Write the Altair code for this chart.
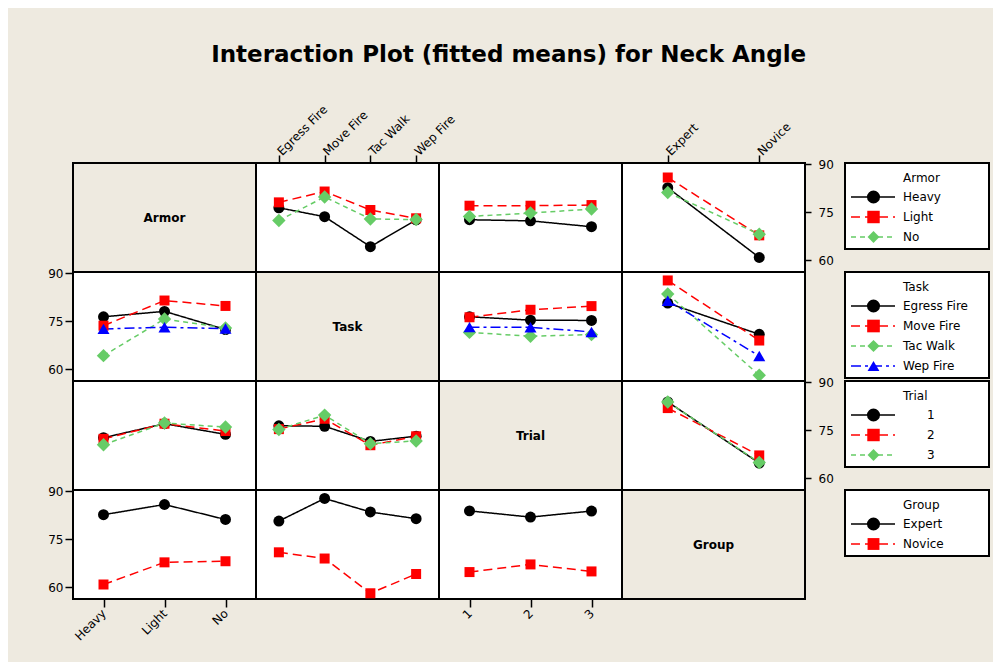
import altair as alt
import pandas as pd

FONT = "DejaVu Sans"
BEIGE = "#EEEAE0"

ARMOR = ["Heavy", "Light", "No"]
TASK = ["Egress Fire", "Move Fire", "Tac Walk", "Wep Fire"]
TRIAL = ["1", "2", "3"]
GROUP = ["Expert", "Novice"]
FACTORS = ["Armor", "Task", "Trial", "Group"]
LEVELS = {"Armor": ARMOR, "Task": TASK, "Trial": TRIAL, "Group": GROUP}

# fitted means: rows = levels of first factor, columns = levels of second factor
ARMOR_TASK = [
    [76.4, 73.6, 64.2, 72.6],
    [78.1, 81.5, 75.7, 73.1],
    [72.4, 79.8, 72.9, 72.7],
]
ARMOR_TRIAL = [
    [72.65, 72.3, 70.45],
    [77.05, 77.05, 77.25],
    [73.7, 74.75, 76.0],
]
ARMOR_GROUP = [
    [82.7, 60.8],
    [85.9, 67.75],
    [81.2, 68.1],
]
TASK_TRIAL = [
    [76.4, 75.35, 75.25],
    [76.25, 78.6, 79.75],
    [71.5, 70.3, 70.8],
    [73.15, 73.1, 71.65],
]
TASK_GROUP = [
    [80.7, 70.9],
    [87.8, 68.95],
    [83.55, 58.05],
    [81.45, 64.1],
]
TRIAL_GROUP = [
    [83.9, 64.7],
    [81.95, 67.1],
    [83.85, 64.9],
]
TABLES = {
    ("Armor", "Task"): ARMOR_TASK,
    ("Armor", "Trial"): ARMOR_TRIAL,
    ("Armor", "Group"): ARMOR_GROUP,
    ("Task", "Trial"): TASK_TRIAL,
    ("Task", "Group"): TASK_GROUP,
    ("Trial", "Group"): TRIAL_GROUP,
}

Y_TICKS = [60, 75, 90]
Y_DOMAIN = [56.25, 90.45]

COLORS = ["#000000", "#FF0000", "#66CC66", "#0000FF"]
SHAPES = ["circle", "square", "diamond", "triangle-up"]
SIZES = [120, 100, 180, 145]
LEG_SIZES = [170, 140, 270, 200]
DASHES = [[1, 0], [9, 5], [5, 4], [10, 4, 3, 4]]

W, H = 183, 109


def means(r, c):
    if (r, c) in TABLES:
        return TABLES[(r, c)]
    t = TABLES[(c, r)]
    return [list(col) for col in zip(*t)]


def legend_panel(name):
    lv = LEVELS[name]
    k = len(lv)
    box_h = 26 + 20 * k
    df = pd.DataFrame({"label": lv})
    one = alt.Chart(pd.DataFrame({"t": [name]}))
    y = alt.Y("label:N", scale=alt.Scale(type="point", domain=lv, range=[34, 34 + 20 * (k - 1)], padding=0),
              axis=None)
    color = alt.Color("label:N", scale=alt.Scale(domain=lv, range=COLORS[:k]), legend=None)
    box = one.mark_rect(fill="white", stroke="black", strokeWidth=2).encode(
        x=alt.value(40), x2=alt.value(184), y=alt.value(0), y2=alt.value(box_h)
    )
    title = one.mark_text(align="left", baseline="middle", font=FONT, fontSize=12, color="black").encode(
        x=alt.value(98), y=alt.value(15), text="t:N"
    )
    base = alt.Chart(df)
    segs = base.mark_rule(strokeWidth=1.5).encode(
        x=alt.value(46), x2=alt.value(90), y=y, color=color,
        strokeDash=alt.StrokeDash("label:N", scale=alt.Scale(domain=lv, range=DASHES[:k]), legend=None),
    )
    marks = base.mark_point(filled=True, opacity=1).encode(
        x=alt.value(68.5), y=y, color=color,
        shape=alt.Shape("label:N", scale=alt.Scale(domain=lv, range=SHAPES[:k]), legend=None),
        size=alt.Size("label:N", scale=alt.Scale(domain=lv, range=LEG_SIZES[:k]), legend=None),
    )
    labels = base.mark_text(align="left", baseline="middle", font=FONT, fontSize=12, color="black").encode(
        x=alt.value(122 if name == "Trial" else 98), y=y, text="label:N"
    )
    return alt.layer(box, title, segs, marks, labels).properties(
        width=W, height=H,
        view=alt.ViewBackground(fill="transparent", stroke="transparent"),
    )


def panel(ri, ci):
    R, C = FACTORS[ri], FACTORS[ci]
    if ri == ci:
        return alt.Chart(pd.DataFrame({"label": [R]})).mark_text(
            font=FONT, fontSize=12, fontWeight="bold", color="black"
        ).encode(text="label:N").properties(
            width=W, height=H,
            view=alt.ViewBackground(fill=BEIGE, stroke="black", strokeWidth=2),
        )
    tr, xl = LEVELS[R], LEVELS[C]
    m = means(R, C)
    rows = []
    for i, t in enumerate(tr):
        for j, xv in enumerate(xl):
            rows.append({"x": xv, "trace": t, "mean": m[i][j]})
    df = pd.DataFrame(rows)
    k = len(tr)

    if ri == 0 and ci in (1, 3):
        xaxis = alt.Axis(orient="top", labelAngle=-45, labelAlign="left", labelBaseline="middle",
                         tickSize=8, labelPadding=2, title=None)
    elif ri == 3 and ci in (0, 2):
        xaxis = alt.Axis(orient="bottom", labelAngle=-45, labelAlign="right", labelBaseline="middle",
                         tickSize=8, labelPadding=4, title=None)
    else:
        xaxis = None
    if ci == 0 and ri in (1, 3):
        yaxis = alt.Axis(orient="left", values=Y_TICKS, tickSize=8, labelPadding=2, title=None)
    elif ci == 3 and ri in (0, 2):
        yaxis = alt.Axis(orient="right", values=Y_TICKS, tickSize=6, labelPadding=7, title=None)
    else:
        yaxis = None

    x = alt.X("x:N", scale=alt.Scale(domain=xl, type="point", padding=0.5), axis=xaxis, sort=xl)
    y = alt.Y("mean:Q", scale=alt.Scale(domain=Y_DOMAIN, zero=False, nice=False), axis=yaxis)
    base = alt.Chart(df)
    layers = [
        base.mark_line(strokeWidth=1.5).encode(
            x=x, y=y,
            color=alt.Color("trace:N", scale=alt.Scale(domain=tr, range=COLORS[:k]), legend=None),
            strokeDash=alt.StrokeDash("trace:N", scale=alt.Scale(domain=tr, range=DASHES[:k]), legend=None),
        )
    ]
    for i, t in enumerate(tr):
        layers.append(
            base.transform_filter(alt.datum.trace == t).mark_point(
                filled=True, shape=SHAPES[i], size=SIZES[i], color=COLORS[i], opacity=1
            ).encode(x=x, y=y)
        )
    return alt.layer(*layers).properties(
        width=W, height=H,
        view=alt.ViewBackground(fill="white", stroke="black", strokeWidth=2),
    )


panels = []
for r in range(4):
    for c in range(4):
        panels.append(panel(r, c))
    panels.append(legend_panel(FACTORS[r]))

chart = alt.concat(*panels, columns=5, spacing=0, bounds="flush").resolve_scale(
    x="independent", y="independent", color="independent",
    shape="independent", strokeDash="independent", size="independent",
).properties(
    title=alt.TitleParams(
        "Interaction Plot (fitted means) for Neck Angle",
        font=FONT, fontSize=23, fontWeight="bold", color="black", anchor="middle", offset=35, dx=-10,
    ),
    padding={"left": 38, "top": 35, "right": 2, "bottom": 18},
    background=BEIGE,
).configure_axis(
    labelFont=FONT, labelFontSize=12, labelColor="black", tickColor="black", tickWidth=1.5,
    domain=False, grid=False,
)

chart.save("out.html", embed_options={"renderer": "svg", "actions": False})
